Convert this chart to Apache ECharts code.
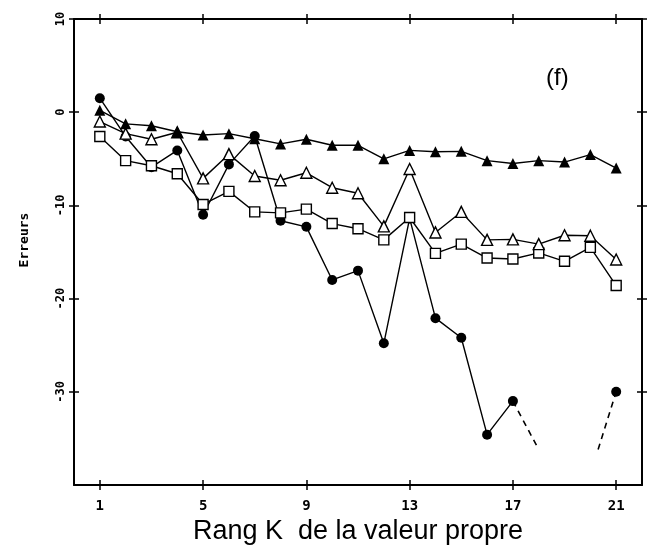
<!DOCTYPE html>
<html><head><meta charset="utf-8">
<script src="https://cdn.jsdelivr.net/npm/echarts@6/dist/echarts.min.js"></script>
<style>html,body{margin:0;padding:0;background:#fff}#c{width:666px;height:550px}</style>
</head><body><div id="c"></div>
<script>
const ranks = [1,2,3,4,5,6,7,8,9,10,11,12,13,14,15,16,17,18,19,20,21];
const filledTri = [0.2,-1.25,-1.45,-2.1,-2.45,-2.3,-2.85,-3.4,-2.9,-3.55,-3.55,-5.0,-4.1,-4.25,-4.2,-5.2,-5.5,-5.2,-5.35,-4.55,-6.0];
const openTri = [-1.0,-2.3,-2.9,-2.15,-7.1,-4.5,-6.85,-7.3,-6.5,-8.1,-8.7,-12.25,-6.1,-12.9,-10.7,-13.7,-13.65,-14.15,-13.2,-13.25,-15.8];
const squares = [-2.6,-5.2,-5.75,-6.6,-9.9,-8.5,-10.7,-10.8,-10.4,-11.95,-12.5,-13.7,-11.3,-15.15,-14.15,-15.65,-15.75,-15.1,-16.0,-14.5,-18.6];
const circles = [1.5,-2.6,-5.9,-4.1,-11.0,-5.6,-2.55,-11.65,-12.3,-18.0,-17.0,-24.8,-11.4,-22.1,-24.2,-34.6,-31.0,null,null,null,-30.0];
const offScaleLeft = [[17,-31.0],[18,-36.2]];
const offScaleRight = [[20.3,-36.2],[21,-30.0]];
const xTicks = [1,5,9,13,17,21];
const yTicks = [-30,-20,-10,0,10];

const pair = (ys) => ranks.map((x,i) => [x, ys[i]]);
const tickFont = {fontFamily:'DejaVu Sans Mono', fontWeight:'bold', fontSize:14, color:'#000'};
const lineCol = '#000';

function xAx(pos, inside, primary) {
  return {
    type:'value', position:pos, min:0, max:22,
    axisLine:{show:primary, onZero:false, lineStyle:{color:lineCol, width:2}},
    axisTick:{show:true, customValues:xTicks, inside:inside, length:5, lineStyle:{color:lineCol, width:1.5}},
    axisLabel:(primary && pos==='bottom') ? Object.assign({customValues:xTicks, margin:14}, tickFont) : {show:false},
    splitLine:{show:false}
  };
}
function yAx(pos, inside, primary) {
  return {
    type:'value', position:pos, min:-40, max:10,
    axisLine:{show:primary, onZero:false, lineStyle:{color:lineCol, width:2}},
    axisTick:{show:true, customValues:yTicks, inside:inside, length:5, lineStyle:{color:lineCol, width:1.5}},
    axisLabel:(primary && pos==='left') ? Object.assign({customValues:yTicks, rotate:90, margin:7}, tickFont, {fontSize:12}) : {show:false},
    splitLine:{show:false}
  };
}

const xAxes = [xAx('bottom', false, true), xAx('bottom', true, false), xAx('top', false, true), xAx('top', true, false)];
xAxes[0].name = 'Rang K  de la valeur propre';
xAxes[0].nameLocation = 'middle';
xAxes[0].nameGap = 33;
xAxes[0].nameTextStyle = {fontFamily:'Liberation Sans', fontSize:27, color:'#000'};

const yAxes = [yAx('left', false, true), yAx('left', true, false), yAx('right', false, true), yAx('right', true, false)];
yAxes[0].name = 'Erreurs';
yAxes[0].nameLocation = 'middle';
yAxes[0].nameGap = 43;
yAxes[0].nameTextStyle = {fontFamily:'DejaVu Sans Mono', fontWeight:'bold', fontSize:13, color:'#000', padding:[0,0,0,24]};

const baseLine = {color:lineCol, width:1.4};
const chart = echarts.init(document.getElementById('c'), null, {renderer:'canvas'});
chart.setOption({
  animation:false,
  backgroundColor:'#fff',
  grid:{left:74, right:24, top:19, bottom:61},
  xAxis:xAxes,
  yAxis:yAxes,
  graphic:[{type:'text', left:546, top:66, style:{text:'(f)', font:'24px "Liberation Sans"', fill:'#000'}}],
  series:[
    {type:'line', data:pair(circles), connectNulls:false, symbol:'circle', symbolSize:10,
     itemStyle:{color:'#000'}, lineStyle:baseLine, z:2},
    {type:'line', data:offScaleLeft, symbol:'none', lineStyle:{color:lineCol, width:1.6, type:[6,5]}, z:2},
    {type:'line', data:offScaleRight, symbol:'none', lineStyle:{color:lineCol, width:1.6, type:[6,5]}, z:2},
    {type:'line', data:pair(squares), symbol:'rect', symbolSize:10,
     itemStyle:{color:'#fff', borderColor:'#000', borderWidth:1.4}, lineStyle:baseLine, z:3},
    {type:'line', data:pair(openTri), symbol:'triangle', symbolSize:11,
     itemStyle:{color:'#fff', borderColor:'#000', borderWidth:1.4}, lineStyle:baseLine, z:4},
    {type:'line', data:pair(filledTri), symbol:'triangle', symbolSize:11,
     itemStyle:{color:'#000'}, lineStyle:baseLine, z:5}
  ]
});
</script></body></html>
